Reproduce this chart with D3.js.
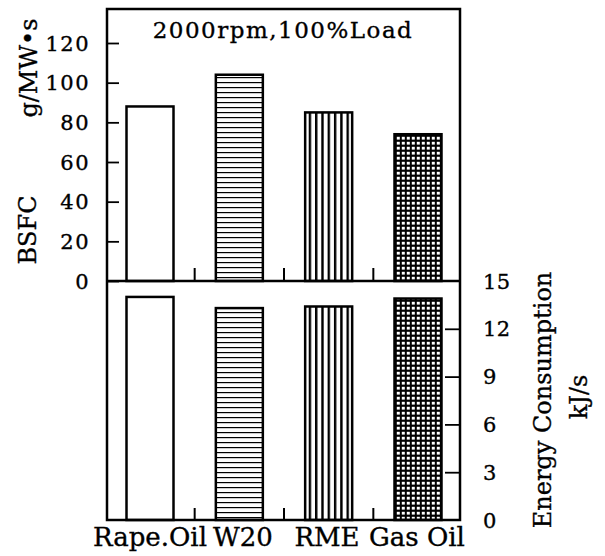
<!DOCTYPE html>
<html><head><meta charset="utf-8">
<script src="https://cdn.jsdelivr.net/npm/d3@7"></script>
<style>body{margin:0;background:#fff}svg{display:block}text{font-family:"DejaVu Serif",serif;fill:#000;stroke:#000;stroke-width:0.35px}</style>
</head><body><svg id="c" width="605" height="556"></svg>
<script>
const categories = ["Rape.Oil", "W20", "RME", "Gas Oil"];
const bsfc = [88, 104, 85, 74];            // g/MW·s
const energy = [14.0, 13.3, 13.4, 13.9];   // kJ/s
const bsfcTicks = [0, 20, 40, 60, 80, 100, 120];
const energyTicks = [0, 3, 6, 9, 12, 15];
const fills = ["white", "url(#hlines)", "url(#vlines)", "url(#grid)"];

const svg = d3.select("#c");
const L = 107, R = 460, T = 9, B = 520, M = 281;

const defs = svg.append("defs");
const ph = defs.append("pattern").attr("id","hlines").attr("patternUnits","userSpaceOnUse").attr("width",6).attr("height",5);
ph.append("rect").attr("width",6).attr("height",5).attr("fill","#fff");
ph.append("rect").attr("y",2).attr("width",6).attr("height",1.2).attr("fill","#000");
const pv = defs.append("pattern").attr("id","vlines").attr("patternUnits","userSpaceOnUse").attr("width",6.3).attr("height",6);
pv.append("rect").attr("width",6.3).attr("height",6).attr("fill","#fff");
pv.append("rect").attr("x",0).attr("width",2.4).attr("height",6).attr("fill","#000");
const pg = defs.append("pattern").attr("id","grid").attr("patternUnits","userSpaceOnUse").attr("width",5).attr("height",5);
pg.append("rect").attr("width",5).attr("height",5).attr("fill","#000");
pg.append("rect").attr("x",1.8).attr("y",1.8).attr("width",3).attr("height",2.8).attr("fill","#fff");

const x = d3.scalePoint().domain(categories).range([150, 418]);
const bw = 47;
const yTop = d3.scaleLinear().domain([0, 120]).range([M, 43]);
const yBot = d3.scaleLinear().domain([0, 15]).range([B, M]);

// top bars
svg.append("g").selectAll("rect").data(categories).join("rect")
  .attr("x", d => x(d) - bw/2).attr("width", bw)
  .attr("y", (d,i) => yTop(bsfc[i])).attr("height", (d,i) => M - yTop(bsfc[i]))
  .attr("fill", (d,i) => fills[i]).attr("stroke", "#000").attr("stroke-width", 2.5);
// bottom bars
svg.append("g").selectAll("rect").data(categories).join("rect")
  .attr("x", d => x(d) - bw/2).attr("width", bw)
  .attr("y", (d,i) => yBot(energy[i])).attr("height", (d,i) => B - yBot(energy[i]))
  .attr("fill", (d,i) => fills[i]).attr("stroke", "#000").attr("stroke-width", 2.5);

// frame + divider
svg.append("rect").attr("x", L).attr("y", T).attr("width", R - L).attr("height", B - T)
  .attr("fill", "none").attr("stroke", "#000").attr("stroke-width", 2.5);
svg.append("line").attr("x1", L).attr("x2", R).attr("y1", M).attr("y2", M)
  .attr("stroke", "#000").attr("stroke-width", 2.5);

// left axis (inner ticks)
const la = svg.append("g").attr("transform", `translate(${L},0)`)
  .call(d3.axisRight(yTop).tickValues(bsfcTicks).tickSize(12).tickFormat(""));
la.select(".domain").remove();
la.selectAll("line").attr("stroke-width", 1.8);
svg.append("g").selectAll("text").data(bsfcTicks).join("text")
  .attr("x", 90).attr("y", d => yTop(d)).attr("dy", "0.36em")
  .attr("text-anchor", "end").attr("font-size", 21).attr("letter-spacing", 1.5).text(d => d);

// right axis (inner ticks)
const ra = svg.append("g").attr("transform", `translate(${R},0)`)
  .call(d3.axisLeft(yBot).tickValues(energyTicks.filter(d => d > 0 && d < 15)).tickSize(15).tickFormat(""));
ra.select(".domain").remove();
ra.selectAll("line").attr("stroke-width", 1.8);
svg.append("g").selectAll("text").data(energyTicks).join("text")
  .attr("x", 483).attr("y", d => yBot(d)).attr("dy", "0.36em")
  .attr("text-anchor", "start").attr("font-size", 21).attr("letter-spacing", 0.5).text(d => d);

// separator ticks between bars
const mids = categories.slice(1).map((d, i) => (x(d) + x(categories[i])) / 2);
svg.append("g").selectAll("line").data(mids).join("line")
  .attr("x1", d => d).attr("x2", d => d).attr("y1", M).attr("y2", M - 13)
  .attr("stroke", "#000").attr("stroke-width", 2);
svg.append("g").selectAll("line").data(mids).join("line")
  .attr("x1", d => d).attr("x2", d => d).attr("y1", B).attr("y2", B - 12)
  .attr("stroke", "#000").attr("stroke-width", 2);

// category labels
const labelX = [150, 243, 327, 417];
svg.append("g").selectAll("text").data(categories).join("text")
  .attr("x", (d,i) => labelX[i]).attr("y", 546).attr("text-anchor", "middle")
  .attr("font-size", 26).text(d => d);

// title
svg.append("text").attr("x", 283).attr("y", 38).attr("text-anchor", "middle")
  .attr("font-size", 23).attr("letter-spacing", 1.5).text("2000rpm,100%Load");

// axis titles
svg.append("text").attr("transform", "translate(36,230) rotate(-90)").attr("text-anchor", "middle")
  .attr("font-size", 24).text("BSFC");
svg.append("text").attr("transform", "translate(37,68) rotate(-90)").attr("text-anchor", "middle")
  .attr("font-size", 24).text("g/MW•s");
svg.append("text").attr("transform", "translate(551,400) rotate(-90)").attr("text-anchor", "middle")
  .attr("font-size", 24).text("Energy Consumption");
svg.append("text").attr("transform", "translate(587,397) rotate(-90)").attr("text-anchor", "middle")
  .attr("font-size", 24).text("kJ/s");
</script></body></html>
